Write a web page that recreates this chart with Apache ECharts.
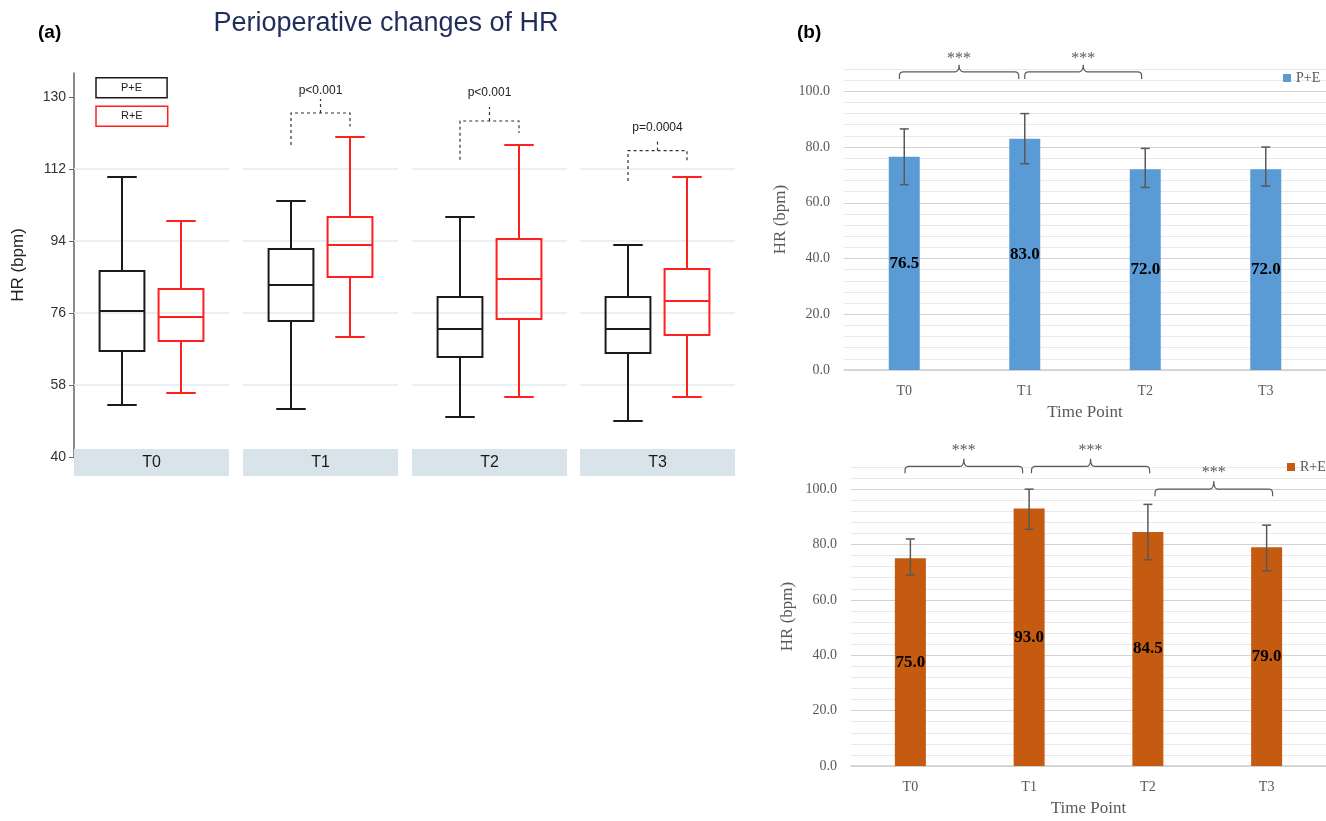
<!DOCTYPE html>
<html>
<head>
<meta charset="utf-8">
<script src="https://cdn.jsdelivr.net/npm/echarts@6/dist/echarts.min.js"></script>
<style>
  html, body { margin: 0; padding: 0; background: #fff; }
  #main { width: 1326px; height: 821px; }
</style>
</head>
<body>
<div id="main"></div>
<script>
// ---------- data ----------
const timePoints = ['T0', 'T1', 'T2', 'T3'];
const groups = ['P+E', 'R+E'];

// five-number summaries per time point: [min, Q1, median, Q3, max]
const boxPE = [
  [53, 66.5, 76.5, 86.5, 110],
  [52, 74, 83, 92, 104],
  [50, 65, 72, 80, 100],
  [49, 66, 72, 80, 93]
];
const boxRE = [
  [56, 69, 75, 82, 99],
  [70, 85, 93, 100, 120],
  [55, 74.5, 84.5, 94.5, 118],
  [55, 70.5, 79, 87, 110]
];

// HR axis of the box plots
const hrTicks = [40, 58, 76, 94, 112, 130];
const hrGridLines = [58, 76, 94, 112];

// p-value brackets between the two groups (facet index, levels in bpm, label)
const pFacet = [1, 2, 3];
const pLevel = [126, 124, 116.6];
const pLeftFoot = [118, 114.3, 109];
const pRightFoot = [122.6, 121, 114];
const pTickTop = [129.5, 127.5, 119.4];
const pLabelLevel = [131.6, 131.2, 122.4];
const pLabels = ['p<0.001', 'p<0.001', 'p=0.0004'];

// medians with interquartile error bars
const medPE = [76.5, 83.0, 72.0, 72.0];
const lowPE = [66.5, 74, 65.5, 66];
const highPE = [86.5, 92, 79.5, 80];
const medRE = [75.0, 93.0, 84.5, 79.0];
const lowRE = [69, 85.5, 74.5, 70.5];
const highRE = [82, 100, 94.5, 87];

// significance brackets between time points
const sigFromPE = [0, 1];
const sigToPE = [1, 2];
const sigLevelPE = [107, 107];
const sigLegPE = [104.4, 104.4];
const sigTickPE = [109.5, 109.5];
const sigStarPE = [111.8, 111.8];

const sigFromRE = [0, 1, 2];
const sigToRE = [1, 2, 3];
const sigLevelRE = [108.2, 108.2, 100];
const sigLegRE = [105.7, 105.7, 97.4];
const sigTickRE = [111, 111, 102.9];
const sigStarRE = [114, 114, 105.8];
const sigMark = '***';

// ---------- layout ----------
const SANS = 'Liberation Sans, Arial, sans-serif';
const SERIF = 'Liberation Serif, Times New Roman, serif';
const stripLeft = [74, 243, 412, 580];
const stripWidth = 155;
const boxOffset = 48, boxSpan = 59;
const aTop = 73, aBottom = 821 - 457;
const groupColor = ['#1a1a1a', '#ff1f1f'];
const peBlue = '#5b9bd5', reOrange = '#c55a11';
const ink = '#595959';
// horizontal shifts of bracket ends, in fractions of a category
const shiftPE = [[-0.04, -0.05], [0.0, -0.03]];
const shiftRE = [[-0.045, -0.055], [0.02, 0.015], [0.06, 0.05]];

const grid = [], xAxis = [], yAxis = [], series = [];

// ---- panel (a): four facets ----
timePoints.forEach((tp, f) => {
  // background grid: strip label, reference lines, shared HR axis
  grid.push({ left: stripLeft[f], width: stripWidth, top: aTop, bottom: aBottom });
  xAxis.push({
    gridIndex: f, type: 'category', data: [tp],
    axisLine: { show: false }, axisTick: { show: false },
    axisLabel: {
      margin: -8, width: stripWidth, height: 27, lineHeight: 27, align: 'center',
      backgroundColor: '#d9e4ea', fontFamily: SANS, fontSize: 16, color: '#1a1a1a'
    }
  });
  yAxis.push(f === 0 ? {
    gridIndex: f, type: 'value', min: 40, max: 136,
    axisLine: { show: true, lineStyle: { color: '#666', width: 1.5 } },
    axisTick: { show: true, length: 5, lineStyle: { color: '#666' }, customValues: hrTicks },
    axisLabel: { customValues: hrTicks, fontFamily: SANS, fontSize: 14, color: '#333', margin: 8 },
    splitLine: { show: false },
    name: 'HR (bpm)', nameLocation: 'middle', nameGap: 47,
    nameTextStyle: { fontFamily: SANS, fontSize: 17, color: '#222' }
  } : { gridIndex: f, type: 'value', min: 40, max: 136, show: false, splitLine: { show: false } });
  series.push({
    type: 'line', xAxisIndex: f, yAxisIndex: f, data: [], silent: true,
    markLine: {
      silent: true, symbol: 'none', label: { show: false }, animation: false,
      lineStyle: { color: '#e1ebf0', width: 1.5, type: 'solid' },
      data: hrGridLines.map(v => ({ yAxis: v }))
    }
  });
});

timePoints.forEach((tp, f) => {
  const gi = 4 + f;
  grid.push({ left: stripLeft[f] + boxOffset, width: boxSpan, top: aTop, bottom: aBottom });
  xAxis.push({ gridIndex: gi, type: 'category', data: groups, boundaryGap: false, show: false });
  yAxis.push({ gridIndex: gi, type: 'value', min: 40, max: 136, show: false, splitLine: { show: false } });
  [boxPE, boxRE].forEach((box, g) => {
    series.push({
      type: 'custom', name: groups[g], xAxisIndex: gi, yAxisIndex: gi, z: 5,
      encode: { x: 0, y: [1, 2, 3, 4, 5] },
      data: [[g].concat(box[f])],
      renderItem(params, api) {
        const x = api.value(0);
        const lo = api.coord([x, api.value(1)]);
        const q1 = api.coord([x, api.value(2)]);
        const md = api.coord([x, api.value(3)]);
        const q3 = api.coord([x, api.value(4)]);
        const hi = api.coord([x, api.value(5)]);
        const band = api.size([1, 0])[0];
        const bw = band * 0.38, cw = band * 0.25, cx = lo[0];
        const st = { stroke: groupColor[g], lineWidth: 2, fill: null };
        return {
          type: 'group', children: [
            { type: 'rect', shape: { x: cx - bw, y: q3[1], width: 2 * bw, height: q1[1] - q3[1] }, style: st },
            { type: 'line', shape: { x1: cx - bw, y1: md[1], x2: cx + bw, y2: md[1] }, style: st },
            { type: 'line', shape: { x1: cx, y1: q3[1], x2: cx, y2: hi[1] }, style: st },
            { type: 'line', shape: { x1: cx, y1: q1[1], x2: cx, y2: lo[1] }, style: st },
            { type: 'line', shape: { x1: cx - cw, y1: hi[1], x2: cx + cw, y2: hi[1] }, style: st },
            { type: 'line', shape: { x1: cx - cw, y1: lo[1], x2: cx + cw, y2: lo[1] }, style: st }
          ]
        };
      }
    });
  });
});

// p-value brackets
pFacet.forEach((f, k) => {
  const gi = 4 + f;
  series.push({
    type: 'custom', xAxisIndex: gi, yAxisIndex: gi, z: 6, silent: true,
    encode: { x: -1, y: [0, 1, 2, 3, 4] },
    data: [[pLevel[k], pLeftFoot[k], pRightFoot[k], pTickTop[k], pLabelLevel[k]]],
    renderItem(params, api) {
      const l = api.coord([0, api.value(0)]);
      const r = api.coord([1, api.value(0)]);
      const lf = api.coord([0, api.value(1)]);
      const rf = api.coord([1, api.value(2)]);
      const tk = api.coord([0, api.value(3)]);
      const tx = api.coord([0, api.value(4)]);
      const mx = (l[0] + r[0]) / 2;
      const st = { stroke: '#333', lineWidth: 1.2, lineDash: [3, 3], fill: null };
      return {
        type: 'group', children: [
          { type: 'polyline', shape: { points: [[l[0], lf[1]], [l[0], l[1]], [r[0], r[1]], [r[0], rf[1]]] }, style: st },
          { type: 'line', shape: { x1: mx, y1: l[1], x2: mx, y2: tk[1] }, style: st },
          { type: 'text', style: { x: mx, y: tx[1], text: pLabels[k], align: 'center', verticalAlign: 'middle',
              font: '12px ' + SANS, fill: '#222' } }
        ]
      };
    }
  });
});

// ---- panel (b): two bar charts ----
const bCharts = [
  { name: 'P+E', med: medPE, low: lowPE, high: highPE, color: peBlue, left: 844, top: 69, bottom: 821 - 370,
    from: sigFromPE, to: sigToPE, lvl: sigLevelPE, leg: sigLegPE, tick: sigTickPE, star: sigStarPE, shift: shiftPE },
  { name: 'R+E', med: medRE, low: lowRE, high: highRE, color: reOrange, left: 851, top: 467, bottom: 821 - 766,
    from: sigFromRE, to: sigToRE, lvl: sigLevelRE, leg: sigLegRE, tick: sigTickRE, star: sigStarRE, shift: shiftRE }
];

bCharts.forEach((c, n) => {
  const gi = 8 + n;
  grid.push({ left: c.left, right: -6, top: c.top, bottom: c.bottom });
  xAxis.push({
    gridIndex: gi, type: 'category', data: timePoints,
    axisLine: { show: true, lineStyle: { color: '#d0d0d0', width: 1.5 } },
    axisTick: { show: false },
    axisLabel: { fontFamily: SERIF, fontSize: 14, color: ink, margin: 14 },
    name: 'Time Point', nameLocation: 'middle', nameGap: 34,
    nameTextStyle: { fontFamily: SERIF, fontSize: 17, color: ink }
  });
  yAxis.push({
    gridIndex: gi, type: 'value', min: 0, max: 108, interval: 4,
    axisLine: { show: false }, axisTick: { show: false },
    axisLabel: { fontFamily: SERIF, fontSize: 14, color: ink, margin: 14,
      formatter: v => (v % 20 === 0 ? v.toFixed(1) : '') },
    splitLine: { show: true, lineStyle: { color: ['#d2d2d2', '#e9e9e9', '#e9e9e9', '#e9e9e9', '#e9e9e9'], width: 1 } },
    name: 'HR (bpm)', nameLocation: 'middle', nameGap: 55,
    nameTextStyle: { fontFamily: SERIF, fontSize: 17, color: ink }
  });
  series.push({
    type: 'bar', name: c.name, xAxisIndex: gi, yAxisIndex: gi, data: c.med, barWidth: 31,
    itemStyle: { color: c.color }, z: 3,
    label: { show: true, position: 'inside', fontFamily: SERIF, fontWeight: 'bold', fontSize: 17, color: '#000',
      formatter: p => p.value.toFixed(1) }
  });
  series.push({
    type: 'custom', xAxisIndex: gi, yAxisIndex: gi, z: 4, silent: true,
    encode: { x: 0, y: [1, 2] },
    data: timePoints.map((t, i) => [i, c.low[i], c.high[i]]),
    renderItem(params, api) {
      const lo = api.coord([api.value(0), api.value(1)]);
      const hi = api.coord([api.value(0), api.value(2)]);
      const st = { stroke: ink, lineWidth: 1.5 };
      const w = 4.5;
      return {
        type: 'group', children: [
          { type: 'line', shape: { x1: lo[0], y1: lo[1], x2: hi[0], y2: hi[1] }, style: st },
          { type: 'line', shape: { x1: hi[0] - w, y1: hi[1], x2: hi[0] + w, y2: hi[1] }, style: st },
          { type: 'line', shape: { x1: lo[0] - w, y1: lo[1], x2: lo[0] + w, y2: lo[1] }, style: st }
        ]
      };
    }
  });
  series.push({
    type: 'custom', xAxisIndex: gi, yAxisIndex: gi, z: 4, silent: true, clip: false,
    encode: { x: 0, y: [2, 3, 4, 5] },
    data: c.from.map((a, k) => [a, c.to[k], c.lvl[k], c.leg[k], c.tick[k], c.star[k]]),
    renderItem(params, api) {
      const k = params.dataIndex;
      const band = api.size([1, 0])[0];
      const xL = api.coord([api.value(0), 0])[0] + c.shift[k][0] * band;
      const xR = api.coord([api.value(1), 0])[0] + c.shift[k][1] * band;
      const y = api.coord([0, api.value(2)])[1];
      const yLeg = api.coord([0, api.value(3)])[1];
      const yTick = api.coord([0, api.value(4)])[1];
      const yStar = api.coord([0, api.value(5)])[1];
      const xm = (xL + xR) / 2, r = 4;
      const path = `M${xL},${yLeg} L${xL},${y + r} Q${xL},${y} ${xL + r},${y} L${xm - r},${y} ` +
        `Q${xm},${y} ${xm},${yTick} Q${xm},${y} ${xm + r},${y} L${xR - r},${y} Q${xR},${y} ${xR},${y + r} L${xR},${yLeg}`;
      return {
        type: 'group', children: [
          { type: 'path', shape: { pathData: path }, style: { stroke: ink, lineWidth: 1.2, fill: null } },
          { type: 'text', style: { x: xm, y: yStar, text: sigMark, align: 'center', verticalAlign: 'middle',
              font: '16px ' + SERIF, fill: ink } }
        ]
      };
    }
  });
});

const option = {
  backgroundColor: '#fff',
  animation: false,
  title: [
    { text: '(a)', left: 33, top: 18, textStyle: { fontFamily: SANS, fontWeight: 'bold', fontSize: 19, color: '#000' } },
    { text: 'Perioperative changes of HR', left: 381, top: 5, textAlign: 'center',
      textStyle: { fontFamily: SANS, fontWeight: 'normal', fontSize: 27, color: '#1f2d5a' } },
    { text: '(b)', left: 792, top: 18, textStyle: { fontFamily: SANS, fontWeight: 'bold', fontSize: 19, color: '#000' } }
  ],
  legend: [
    {
      left: 86, top: 72, orient: 'vertical', icon: 'none', itemWidth: 0, itemHeight: 10, itemGap: 7,
      selectedMode: false,
      data: [
        { name: 'P+E', textStyle: { borderColor: groupColor[0] } },
        { name: 'R+E', textStyle: { borderColor: groupColor[1] } }
      ],
      textStyle: { fontFamily: SANS, fontSize: 11, color: '#222', borderWidth: 1.5,
        lineHeight: 12, padding: [4, 25, 4, 25] }
    },
    {
      left: 1278, top: 66, icon: 'rect', itemWidth: 8, itemHeight: 8, selectedMode: false,
      data: [{ name: 'P+E', itemStyle: { color: peBlue } }],
      textStyle: { fontFamily: SERIF, fontSize: 14, color: ink }
    },
    {
      left: 1282, top: 455, icon: 'rect', itemWidth: 8, itemHeight: 8, selectedMode: false,
      data: [{ name: 'R+E', itemStyle: { color: reOrange } }],
      textStyle: { fontFamily: SERIF, fontSize: 14, color: ink }
    }
  ],
  grid, xAxis, yAxis, series
};

const chart = echarts.init(document.getElementById('main'), null, { renderer: 'canvas' });
chart.setOption(option);
</script>
</body>
</html>
